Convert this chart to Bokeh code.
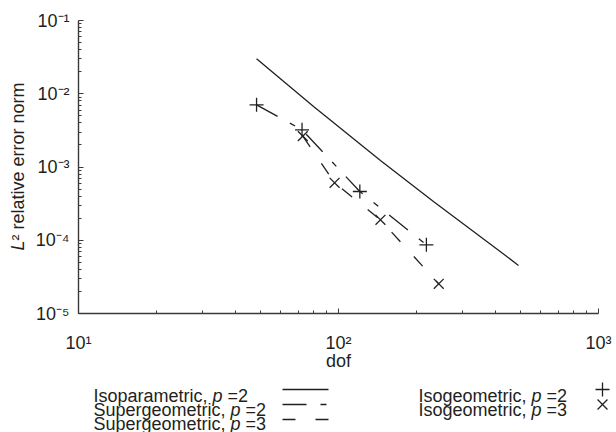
import numpy as np
from bokeh.plotting import figure
from bokeh.layouts import column, row
from bokeh.models import FixedTicker, Range1d
from bokeh.core.properties import value
from bokeh.embed import file_html
from bokeh.resources import INLINE

# ---------------- data ----------------
isopar_dof = [48.4, 80.4, 145.0, 232.5, 419.8, 492.5]
isopar_err = [3.0e-2, 6.65e-3, 1.23e-3, 3.36e-4, 6.98e-5, 4.52e-5]

iga_p2_dof = [48.4, 72.4, 120.8, 217.8]
iga_p2_err = [7.06e-3, 3.22e-3, 4.63e-4, 8.67e-5]

iga_p3_dof = [72.9, 96.6, 145.0, 243.0]
iga_p3_err = [2.64e-3, 6.08e-4, 1.90e-4, 2.54e-5]

x_ticks = [10, 100, 1000]
x_tick_labels = ["10¹", "10²", "10³"]
y_ticks = [1e-5, 1e-4, 1e-3, 1e-2, 1e-1]
y_tick_labels = ["10⁻⁵", "10⁻⁴", "10⁻³", "10⁻²", "10⁻¹"]

x_label = "dof"
y_label_italic = "L"
y_label_rest = "² relative error norm"

legend_left = ["Isoparametric, ", "Supergeometric, ", "Supergeometric, "]
legend_left_p = ["2", "2", "3"]
legend_right = ["Isogeometric, ", "Isogeometric, "]
legend_right_p = ["2", "3"]

# ---------------- style ----------------
FONT = "Liberation Sans"
FS = "18px"
INK = "#231f20"
AXC = "#3a3a3a"
LW = 1.3
DASH_P2 = "24 14 6 14"
DASH_P3 = "13 20"

YLAB_W = 30          # strip left of the axes holding the y label
TOP_H = 380          # height of the chart row
FR_L, FR_R, FR_T, FR_B = 78, 598, 20, 313   # frame edges on the page


def bare(fig):
    fig.axis.visible = False
    fig.grid.visible = False
    fig.outline_line_color = None


# ---------------- main axes ----------------
p = figure(width=616 - YLAB_W, height=TOP_H, x_axis_type="log", y_axis_type="log",
           x_range=Range1d(10, 1000), y_range=Range1d(1e-5, 1e-1),
           output_backend="svg", toolbar_location=None,
           min_border_left=FR_L - YLAB_W, min_border_right=616 - FR_R,
           min_border_top=FR_T, min_border_bottom=TOP_H - FR_B)
p.outline_line_color = None
p.grid.visible = False

x_minor = [m * 10 ** k for k in (1, 2) for m in range(2, 10)]
y_minor = [m * 10.0 ** k for k in (-5, -4, -3, -2) for m in range(2, 10)]
p.xaxis.ticker = FixedTicker(ticks=x_ticks, minor_ticks=x_minor)
p.yaxis.ticker = FixedTicker(ticks=y_ticks, minor_ticks=y_minor)
p.xaxis.major_label_overrides = {t: l for t, l in zip(x_ticks, x_tick_labels)}
p.yaxis.major_label_overrides = {t: l for t, l in zip(y_ticks, y_tick_labels)}

for ax in (p.xaxis[0], p.yaxis[0]):
    ax.axis_line_color = AXC
    ax.axis_line_width = 1.4
    ax.major_tick_line_color = AXC
    ax.minor_tick_line_color = AXC
    ax.major_tick_in = 5
    ax.major_tick_out = 0
    ax.minor_tick_in = 3
    ax.minor_tick_out = 0
    ax.major_label_text_font = FONT
    ax.major_label_text_font_size = FS
    ax.major_label_text_color = INK
    ax.axis_label_text_font = FONT
    ax.axis_label_text_font_size = FS
    ax.axis_label_text_font_style = "normal"
    ax.axis_label_text_color = INK

p.xaxis.major_label_standoff = 19
p.xaxis.axis_label = x_label
p.xaxis.axis_label_standoff = -5
p.yaxis.major_label_standoff = 9

p.line(isopar_dof, isopar_err, line_color=INK, line_width=LW)
p.line(iga_p2_dof, iga_p2_err, line_color=INK, line_width=LW, line_dash=DASH_P2)
p.line(iga_p3_dof, iga_p3_err, line_color=INK, line_width=LW, line_dash=DASH_P3)
p.scatter(iga_p2_dof, iga_p2_err, marker="cross", size=14, line_color=INK, line_width=LW)
p.scatter(iga_p3_dof, iga_p3_err, marker="x", size=14, line_color=INK, line_width=LW)

# ---------------- y label strip (coordinates = page pixels) ----------------
yl = figure(width=YLAB_W, height=TOP_H, x_range=Range1d(0, YLAB_W),
            y_range=Range1d(FR_B, FR_T), output_backend="svg", toolbar_location=None,
            min_border_left=0, min_border_right=0,
            min_border_top=FR_T, min_border_bottom=TOP_H - FR_B)
bare(yl)
yl.text(x=[17], y=[250], text=[y_label_italic], angle=np.pi / 2,
        text_font=value(FONT), text_font_size=value(FS), text_font_style=value("italic"),
        text_color=INK, text_align="left", text_baseline="middle")
yl.text(x=[17], y=[240], text=[y_label_rest], angle=np.pi / 2,
        text_font=value(FONT), text_font_size=value(FS),
        text_color=INK, text_align="left", text_baseline="middle")

# ---------------- legend strip (coordinates = page pixels) ----------------
LG_H = 432 - TOP_H
lg = figure(width=616, height=LG_H, x_range=Range1d(0, 616), y_range=Range1d(432, TOP_H),
            output_backend="svg", toolbar_location=None,
            min_border_left=0, min_border_right=0, min_border_top=0, min_border_bottom=0)
bare(lg)

W = {" ": 278, ",": 278, "=": 584, "I": 278, "S": 667, "s": 500, "o": 556, "p": 556,
     "a": 556, "r": 333, "m": 833, "e": 556, "t": 278, "i": 222, "c": 500, "u": 556,
     "g": 556}


def tw(s):
    return sum(W.get(ch, 556) for ch in s) * 18 / 1000.0


def txt(x, y, s, style="normal"):
    lg.text(x=[x], y=[y], text=[s], text_font=value(FONT), text_font_size=value(FS),
            text_font_style=value(style), text_color=INK,
            text_baseline="alphabetic", text_align="left")


def legend_entry(x0, yb, head, num):
    txt(x0, yb, head)
    x1 = x0 + tw(head)
    txt(x1, yb, "p", "italic")
    txt(x1 + tw("p") + tw(" "), yb, "=" + num)


rows_b = [395, 409, 423]
rows_m = [389, 404, 419]
for i, (h, n) in enumerate(zip(legend_left, legend_left_p)):
    legend_entry(93, rows_b[i], h, n)
for i, (h, n) in enumerate(zip(legend_right, legend_right_p)):
    legend_entry(418, rows_b[i], h, n)

lg.line([282, 328], [rows_m[0]] * 2, line_color=INK, line_width=LW)
lg.line([282, 328], [rows_m[1]] * 2, line_color=INK, line_width=LW, line_dash=DASH_P2)
lg.line([282, 328], [rows_m[2]] * 2, line_color=INK, line_width=LW, line_dash=DASH_P3)
lg.scatter([602], [rows_m[0]], marker="cross", size=14, line_color=INK, line_width=LW)
lg.scatter([602], [rows_m[1]], marker="x", size=14, line_color=INK, line_width=LW)

layout = column(row(yl, p, spacing=0), lg, spacing=0)
open("out.html", "w").write(file_html(layout, INLINE))
